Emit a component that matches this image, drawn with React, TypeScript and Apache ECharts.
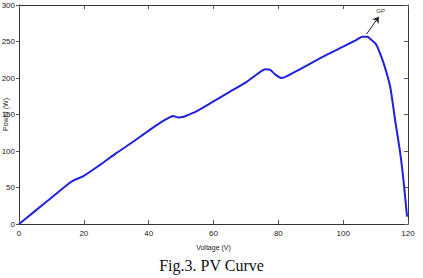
import React, { useEffect, useRef } from "react";
import * as echarts from "echarts";

const voltage = [0, 5, 10, 15, 17, 20, 25, 30, 35, 40, 44, 46, 47.5, 49, 50.5, 52, 55, 60, 65, 70, 74, 76, 77.5, 79, 81, 85, 90, 95, 100, 104, 106, 107.5, 108.5, 110, 111, 112.5, 114.5, 116, 117.6, 118.6, 119.7];
const power = [0, 18, 36, 54, 60, 66, 81, 97, 112, 128, 140, 145, 148, 146, 146.5, 149, 155, 168, 181, 194, 207, 212, 211, 205, 200, 208, 220, 232, 243, 252, 256.5, 256.5, 253, 247, 238, 220, 188, 143, 97, 60, 10];
const xTicks = [0, 20, 40, 60, 80, 100, 120];
const yTicks = [0, 50, 100, 150, 200, 250, 300];
const gpStart = [107.2, 260];
const gpEnd = [111, 284];

export default function App() {
  const ref = useRef<HTMLDivElement>(null);
  useEffect(() => {
    if (!ref.current) return;
    const chart = echarts.init(ref.current, null, { renderer: "svg" });
    const axisLine = { show: true, onZero: false, lineStyle: { color: "#333", width: 1 } };
    const tickFont = { fontFamily: "Liberation Sans", fontSize: 8, color: "#222" };
    chart.setOption({
      animation: false,
      backgroundColor: "#fff",
      title: {
        text: "Fig.3. PV Curve",
        left: "center",
        top: 252,
        textStyle: { fontFamily: "Liberation Serif", fontSize: 16, fontWeight: "normal", color: "#111" },
      },
      grid: { left: 19, right: 15, top: 5, bottom: 54, containLabel: false, outerBoundsMode: "none" },
      xAxis: [
        {
          type: "value",
          min: xTicks[0],
          max: xTicks[xTicks.length - 1],
          interval: 20,
          name: "Voltage (V)",
          nameLocation: "middle",
          nameGap: 20,
          nameMoveOverlap: false,
          nameTextStyle: { fontFamily: "Liberation Sans", fontSize: 7, color: "#222" },
          axisLine,
          axisTick: { show: true, inside: true, length: 4, lineStyle: { color: "#555" } },
          axisLabel: { ...tickFont, margin: 5 },
          splitLine: { show: false },
        },
        {
          type: "value",
          position: "top",
          min: xTicks[0],
          max: xTicks[xTicks.length - 1],
          interval: 20,
          axisLine,
          axisTick: { show: true, inside: true, length: 4, lineStyle: { color: "#555" } },
          axisLabel: { show: false },
          splitLine: { show: false },
        },
      ],
      yAxis: [
        {
          type: "value",
          min: yTicks[0],
          max: yTicks[yTicks.length - 1],
          interval: 50,
          name: "Power (W)",
          nameLocation: "middle",
          nameGap: 10,
          nameMoveOverlap: false,
          nameTextStyle: { fontFamily: "Liberation Sans", fontSize: 7, color: "#222" },
          axisLine,
          axisTick: { show: true, inside: false, length: 3, lineStyle: { color: "#555" } },
          axisLabel: { ...tickFont, margin: 4 },
          splitLine: { show: false },
        },
        {
          type: "value",
          position: "right",
          min: yTicks[0],
          max: yTicks[yTicks.length - 1],
          interval: 50,
          axisLine,
          axisTick: { show: true, inside: true, length: 4, lineStyle: { color: "#555" } },
          axisLabel: { show: false },
          splitLine: { show: false },
        },
      ],
      series: [
        {
          type: "line",
          data: voltage.map((v, i) => [v, power[i]]),
          smooth: 0.25,
          showSymbol: false,
          lineStyle: { color: "#2020e0", width: 2 },
          markLine: {
            silent: true,
            symbol: ["none", "arrow"],
            symbolSize: 6,
            lineStyle: { color: "#222", width: 1, type: "solid" },
            label: {
              show: true,
              position: "end",
              formatter: "GP",
              fontSize: 6,
              color: "#333",
              fontFamily: "Liberation Sans",
              distance: 3,
            },
            data: [[{ coord: gpStart }, { coord: gpEnd }]],
          },
        },
      ],
    });
    return () => chart.dispose();
  }, []);
  return <div ref={ref} style={{ width: 423, height: 278, position: "absolute", left: 0, top: 0 }} />;
}
